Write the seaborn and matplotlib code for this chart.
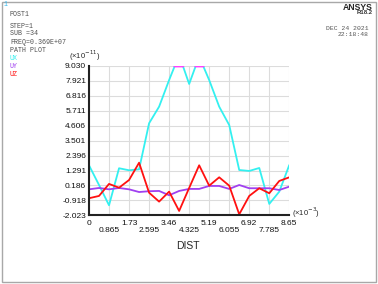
import numpy as np
import pandas as pd
import matplotlib
matplotlib.use('Agg')
import matplotlib.pyplot as plt
from matplotlib.patches import Rectangle
import seaborn as sns

# path distance (x1e-3) and displacement components (x1e-11)
dist = [0, 0.4325, 0.865, 1.2975, 1.73, 2.1625, 2.595, 3.0275, 3.46, 3.8925, 4.325,
        4.7575, 5.19, 5.6225, 6.055, 6.4875, 6.92, 7.3525, 7.785, 8.2175, 8.65]
ux = [1.68, 0.22, -1.28, 1.46, 1.31, 1.38, 4.79, 6.02, 7.99, 9.84, 7.70,
      9.73, 7.99, 6.02, 4.66, 1.33, 1.26, 1.48, -1.18, -0.27, 1.70]
uy = [-0.10, 0.00, -0.10, 0.00, -0.10, -0.30, -0.24, -0.22, -0.54, -0.22, -0.07,
      -0.07, 0.15, 0.15, -0.07, 0.22, -0.02, -0.02, -0.02, -0.15, 0.10]
uz = [-0.76, -0.59, 0.30, 0.02, 0.59, 1.87, -0.35, -1.01, -0.27, -1.70, 0.00,
      1.68, 0.17, 0.79, 0.17, -1.95, -0.59, -0.02, -0.39, 0.52, 0.79]

xticks = [0, 0.865, 1.73, 2.595, 3.46, 4.325, 5.19, 6.055, 6.92, 7.785, 8.65]
xticklabels = ['0', '0.865', '1.73', '2.595', '3.46', '4.325', '5.19', '6.055', '6.92', '7.785', '8.65']
yticks = [9.030, 7.921, 6.816, 5.711, 4.606, 3.501, 2.396, 1.291, 0.186, -0.918, -2.023]
yticklabels = ['9.030', '7.921', '6.816', '5.711', '4.606', '3.501', '2.396', '1.291', '0.186', '-0.918', '-2.023']

colors = {'UX': '#33f0f0', 'UY': '#a040f0', 'UZ': '#ff1010'}

df = pd.DataFrame({'DIST': dist * 3,
                   'value': ux + uy + uz,
                   'comp': ['UX'] * len(ux) + ['UY'] * len(uy) + ['UZ'] * len(uz)})

sns.set_style('white')
plt.rcParams['font.family'] = ['Liberation Sans', 'DejaVu Sans']

W, H = 378, 284
fig = plt.figure(figsize=(W / 100, H / 100), dpi=100)
fig.patch.set_facecolor('white')


def px(x, y):
    return x / W, 1 - y / H


ax = fig.add_axes([89 / W, 1 - 215.3 / H, (289.3 - 89) / W, (215.3 - 66) / H])
sns.lineplot(data=df, x='DIST', y='value', hue='comp', palette=colors,
             linewidth=1.3, legend=False, ax=ax, zorder=3)

# out-of-range part of UX drawn in magenta along the top edge
ux_arr = np.array(ux)
ax.fill_between(dist, ux_arr, yticks[0], where=ux_arr > yticks[0], interpolate=True,
                facecolor='none', edgecolor='#ff40ff', linewidth=2.0, zorder=4)

ax.set_xlim(xticks[0], xticks[-1])
ax.set_ylim(yticks[-1], yticks[0])
ax.set_xticks(xticks[0::2], xticklabels[0::2])
ax.set_xticks(xticks[1::2], xticklabels[1::2], minor=True)
ax.set_yticks(yticks, yticklabels)
ax.tick_params(axis='both', which='both', length=0, labelsize=6, colors='#111111')
ax.tick_params(axis='x', which='major', pad=3.2)
ax.tick_params(axis='x', which='minor', pad=8.6)
ax.tick_params(axis='y', pad=2)
ax.grid(True, which='both', color='#dcdcdc', linewidth=0.8)
ax.set_axisbelow(True)
for s in ['top', 'right']:
    ax.spines[s].set_visible(False)
for s in ['left', 'bottom']:
    ax.spines[s].set_color('#222222')
    ax.spines[s].set_linewidth(1.5)
    ax.spines[s].set_zorder(5)
ax.set_xlabel('')
ax.set_ylabel('')

fig.text(*px(85, 56), '(×10$^{-11}$)', fontsize=5.5, ha='center', va='center')
fig.text(*px(292, 213), '(×10$^{-3}$)', fontsize=5.5, ha='left', va='center')
fig.text(*px(188, 246), 'DIST', fontsize=7.5, ha='center', va='center')

# header text block
mono = 'Liberation Mono'
hdr = '#505050'
fig.text(*px(4, 5), '1', fontsize=4.8, family=mono, color='#30b8f0', ha='left', va='center')
header = [('POST1', 14), ('STEP=1', 26), ('SUB =34', 33.7), ('FREQ=0.369E+07', 42), ('PATH PLOT', 50.3)]
for txt, y in header:
    fig.text(*px(10, y), txt, fontsize=4.8, family=mono, color=hdr, ha='left', va='center')
for (name, col), y in zip(colors.items(), [58.3, 66.7, 74.7]):
    fig.text(*px(10, y), name, fontsize=4.8, family=mono, color=col, ha='left', va='center')

fig.text(*px(373, 7), 'ANSYS', fontsize=6.2, fontweight='bold', ha='right', va='center')
fig.text(*px(373, 13), 'R18.2', fontsize=4.3, fontweight='bold', color='#333333', ha='right', va='center')
fig.text(*px(369, 28), 'DEC 24 2021', fontsize=4.6, family=mono, color='#555555', ha='right', va='center')
fig.text(*px(369, 34.7), '22:18:48', fontsize=4.6, family=mono, color='#555555', ha='right', va='center')

fig.patches.append(Rectangle(px(1.5, 281.5), 374.5 / W, 280 / H, transform=fig.transFigure,
                             fill=False, edgecolor='#a8a8a8', linewidth=1))

fig.savefig('out.png', dpi=100)
